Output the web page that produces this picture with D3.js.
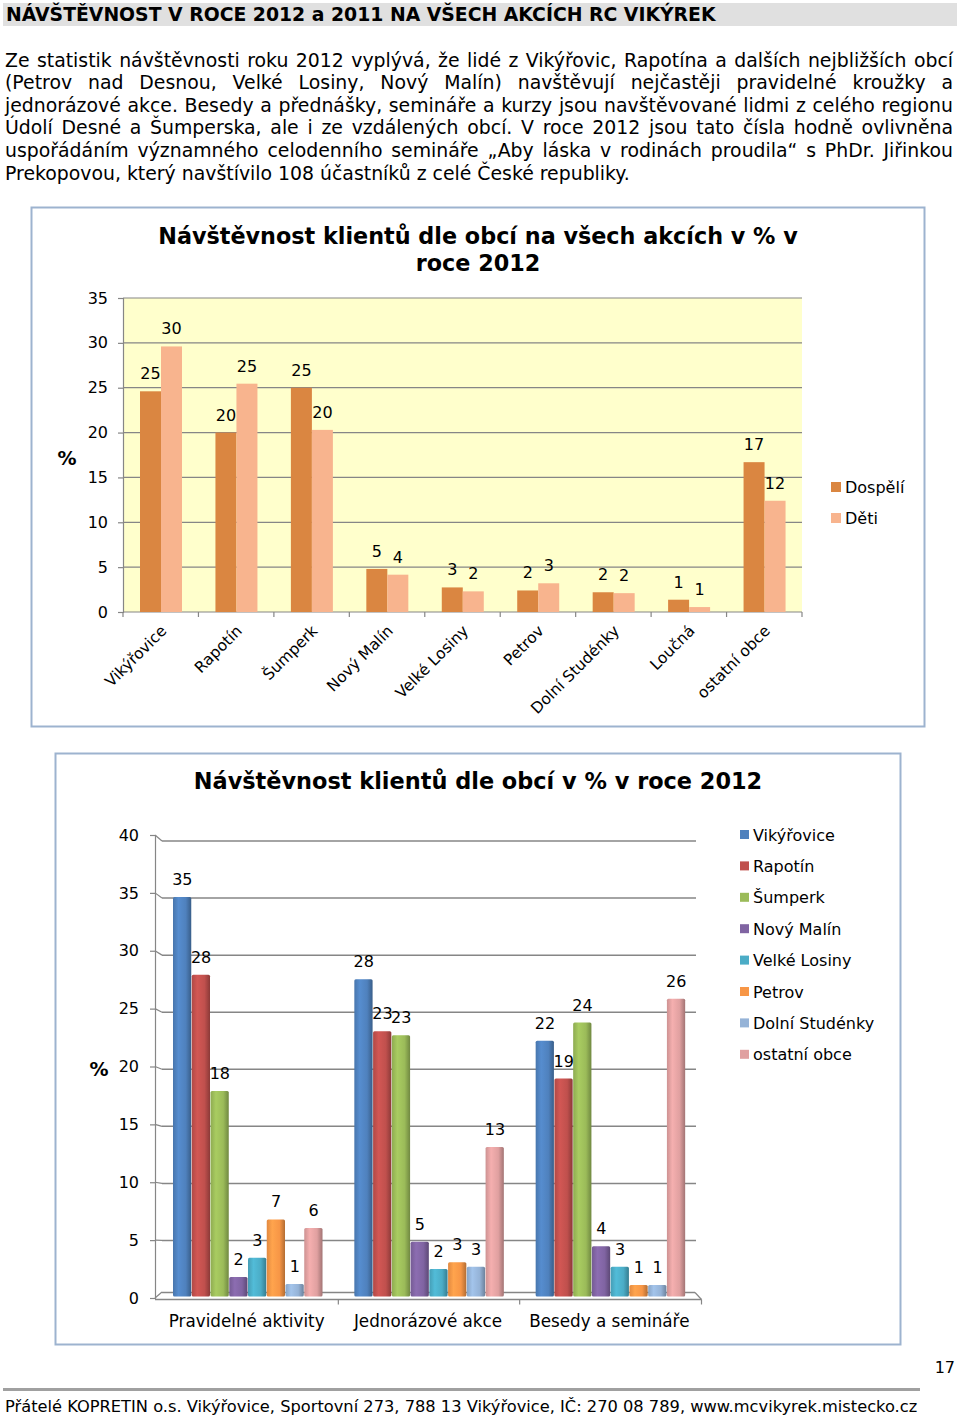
<!DOCTYPE html>
<html><head><meta charset="utf-8">
<script src="https://cdn.jsdelivr.net/npm/d3@7/dist/d3.min.js"></script>
<style>
html,body{margin:0;padding:0;background:#fff;}
svg{display:block;}
text{font-family:"DejaVu Sans",Verdana,sans-serif;}
</style></head>
<body>
<script>
// ---------- DATA ----------
const headerTitle = "NÁVŠTĚVNOST V ROCE 2012 a 2011 NA VŠECH AKCÍCH RC VIKÝREK";
const paragraphLines = [
  "Ze statistik návštěvnosti roku 2012 vyplývá, že lidé z Vikýřovic, Rapotína a dalších nejbližších obcí",
  "(Petrov nad Desnou, Velké Losiny, Nový Malín) navštěvují nejčastěji pravidelné kroužky a",
  "jednorázové akce. Besedy a přednášky, semináře a kurzy jsou navštěvované lidmi z celého regionu",
  "Údolí Desné a Šumperska, ale i ze vzdálených obcí. V roce 2012 jsou tato čísla hodně ovlivněna",
  "uspořádáním významného celodenního semináře „Aby láska v rodinách proudila“ s PhDr. Jiřinkou",
  "Prekopovou, který navštívilo 108 účastníků z celé České republiky."
];

const chart1TitleLines = ["Návštěvnost klientů dle obcí na všech akcích v % v", "roce 2012"];
const chart1Categories = ["Vikýřovice","Rapotín","Šumperk","Nový Malín","Velké Losiny","Petrov","Dolní Studénky","Loučná","ostatní obce"];
const chart1Series = ["Dospělí","Děti"];
const adultsValues   = [24.6, 20.0, 25.0, 4.8, 2.74, 2.4, 2.2, 1.37, 16.7];
const childrenValues = [29.6, 25.45, 20.3, 4.16, 2.3, 3.2, 2.1, 0.55, 12.4];
const chart1Ticks = [0, 5, 10, 15, 20, 25, 30, 35];

const chart2Title = "Návštěvnost klientů dle obcí v % v roce 2012";
const activityCategories = ["Pravidelné aktivity","Jednorázové akce","Besedy a semináře"];
const townSeries = ["Vikýřovice","Rapotín","Šumperk","Nový Malín","Velké Losiny","Petrov","Dolní Studénky","ostatní obce"];
const vikyroviceValues    = [35.0, 27.8, 22.4];
const rapotinValues       = [28.2, 23.25, 19.1];
const sumperkValues       = [18.0, 22.9, 24.0];
const novyMalinValues     = [1.7, 4.8, 4.4];
const velkeLosinyValues   = [3.4, 2.4, 2.6];
const petrovValues        = [6.75, 3.0, 1.0];
const dolniStudenkyValues = [1.1, 2.6, 1.0];
const ostatniObceValues   = [6.0, 13.1, 26.1];
const chart2Ticks = [0, 5, 10, 15, 20, 25, 30, 35, 40];

const pageNumber = "17";
const footerText = "Přátelé KOPRETIN o.s. Vikýřovice, Sportovní 273, 788 13 Vikýřovice, IČ: 270 08 789, www.mcvikyrek.mistecko.cz";

// ---------- STYLE ----------
const chart1Colors = ["#DA8641", "#F8B48E"];
const townColors = ["#4F81BD","#C0504D","#9BBB59","#8064A2","#4BACC6","#F79646","#95B3D7","#E0A0A0"];
const gridColor = "#868686";
const borderColor = "#9DB3CF";
const FONT = "DejaVu Sans";

const svg = d3.select("body").append("svg").attr("width", 960).attr("height", 1419);

function fitWidth(sel, target) {
  const w = sel.node().getComputedTextLength();
  const fs = parseFloat(sel.attr("font-size"));
  sel.attr("font-size", fs * target / w);
  return fs * target / w;
}

// ---------- HEADER ----------
svg.append("rect").attr("x", 3).attr("y", 3).attr("width", 954).attr("height", 23).attr("fill", "#E0E0E0");
const ht = svg.append("text").attr("x", 6).attr("y", 20.5).attr("font-size", 18).attr("font-weight", "bold").text(headerTitle);
fitWidth(ht, 710);

// ---------- PARAGRAPH (justified) ----------
(function () {
  const probe = svg.append("text").attr("font-size", 17).text(paragraphLines[paragraphLines.length - 1]);
  const fs = fitWidth(probe, 625);
  probe.remove();
  const left = 5, right = 953;
  paragraphLines.forEach((line, i) => {
    const y = 66.5 + i * 22.6;
    if (i === paragraphLines.length - 1) {
      svg.append("text").attr("x", left).attr("y", y).attr("font-size", fs).text(line);
      return;
    }
    const words = line.split(" ");
    const g = svg.append("g");
    const nodes = words.map(w => g.append("text").attr("y", y).attr("font-size", fs).text(w));
    const widths = nodes.map(n => n.node().getComputedTextLength());
    const total = d3.sum(widths);
    const gap = (right - left - total) / (words.length - 1);
    let x = left;
    nodes.forEach((n, k) => { n.attr("x", x); x += widths[k] + gap; });
  });
})();

// ---------- CHART 1 ----------
(function () {
  svg.append("rect").attr("x", 31.5).attr("y", 207.5).attr("width", 893).attr("height", 519)
    .attr("fill", "#fff").attr("stroke", borderColor).attr("stroke-width", 2);

  const t1 = svg.append("text").attr("x", 478).attr("y", 244).attr("text-anchor", "middle")
    .attr("font-size", 22).attr("font-weight", "bold").text(chart1TitleLines[0]);
  const tfs = fitWidth(t1, 640);
  svg.append("text").attr("x", 478).attr("y", 271).attr("text-anchor", "middle")
    .attr("font-size", tfs).attr("font-weight", "bold").text(chart1TitleLines[1]);

  const x0 = d3.scaleBand().domain(chart1Categories).range([123, 802]);
  const x1 = d3.scaleBand().domain(chart1Series).range([17, 59]);
  const y = d3.scaleLinear().domain([0, 35]).range([612, 298]);

  svg.append("rect").attr("x", 123).attr("y", y(35)).attr("width", 802 - 123).attr("height", y(0) - y(35)).attr("fill", "#FFFFCC");

  svg.append("g").selectAll("line").data(chart1Ticks.filter(d => d > 0)).join("line")
    .attr("x1", 123).attr("x2", 802).attr("y1", d => y(d)).attr("y2", d => y(d))
    .attr("stroke", gridColor).attr("stroke-width", 1.2);

  const yAxis = svg.append("g").attr("transform", "translate(123,0)")
    .call(d3.axisLeft(y).tickValues(chart1Ticks).tickSize(5).tickPadding(10));
  yAxis.selectAll("path,line").attr("stroke", gridColor).attr("stroke-width", 1.2);
  yAxis.selectAll("text").attr("font-size", 16).attr("font-family", FONT).attr("fill", "#000");

  // x axis
  svg.append("line").attr("x1", 123).attr("x2", 802).attr("y1", y(0)).attr("y2", y(0)).attr("stroke", gridColor).attr("stroke-width", 1.2);
  const bounds = chart1Categories.map(c => x0(c)).concat([x0.range()[1]]);
  svg.append("g").selectAll("line").data(bounds).join("line")
    .attr("x1", d => d).attr("x2", d => d).attr("y1", y(0)).attr("y2", y(0) + 5)
    .attr("stroke", gridColor).attr("stroke-width", 1.2);

  const rows = chart1Categories.map((c, i) => ({ c, vals: [adultsValues[i], childrenValues[i]] }));
  const grp = svg.append("g").selectAll("g").data(rows).join("g").attr("transform", d => `translate(${x0(d.c)},0)`);
  grp.selectAll("rect").data(d => d.vals.map((v, k) => ({ s: chart1Series[k], v, k }))).join("rect")
    .attr("x", d => x1(d.s)).attr("width", x1.bandwidth())
    .attr("y", d => y(d.v)).attr("height", d => y(0) - y(d.v))
    .attr("fill", d => chart1Colors[d.k]);
  grp.selectAll("text").data(d => d.vals.map((v, k) => ({ s: chart1Series[k], v, k }))).join("text")
    .attr("x", d => x1(d.s) + x1.bandwidth() / 2).attr("y", d => y(d.v) - 12)
    .attr("text-anchor", "middle").attr("font-size", 16).text(d => Math.round(d.v));

  // x labels
  svg.append("g").selectAll("text").data(chart1Categories).join("text")
    .attr("transform", d => `translate(${x0(d) + x0.bandwidth() / 2 + 3},628) rotate(-45)`)
    .attr("text-anchor", "end").attr("dy", "0.35em").attr("font-size", 15.5).text(d => d);

  svg.append("text").attr("x", 67).attr("y", 465).attr("text-anchor", "middle")
    .attr("font-size", 19).attr("font-weight", "bold").text("%");

  // legend
  const lg = svg.append("g").selectAll("g").data(chart1Series).join("g")
    .attr("transform", (d, i) => `translate(831,${487 + i * 31})`);
  lg.append("rect").attr("x", 0).attr("y", -5).attr("width", 10).attr("height", 10).attr("fill", (d, i) => chart1Colors[i]);
  lg.append("text").attr("x", 14).attr("y", 6).attr("font-size", 16).text(d => d);
})();

// ---------- CHART 2 ----------
(function () {
  svg.append("rect").attr("x", 55.5).attr("y", 753.5).attr("width", 845).attr("height", 591)
    .attr("fill", "#fff").attr("stroke", borderColor).attr("stroke-width", 2);

  const t = svg.append("text").attr("x", 478).attr("y", 789).attr("text-anchor", "middle")
    .attr("font-size", 22).attr("font-weight", "bold").text(chart2Title);
  fitWidth(t, 569);

  const seriesValues = [vikyroviceValues, rapotinValues, sumperkValues, novyMalinValues,
    velkeLosinyValues, petrovValues, dolniStudenkyValues, ostatniObceValues];

  const x0 = d3.scaleBand().domain(activityCategories).range([157, 701]);
  const x1 = d3.scaleBand().domain(townSeries).range([16, 166]);
  const y = d3.scaleLinear().domain([0, 40]).range([1296.5, 840]);      // bars & back wall
  const yt = d3.scaleLinear().domain([0, 40]).range([1298, 835]);       // front axis ticks

  const defs = svg.append("defs");
  townColors.forEach((c, i) => {
    const g = defs.append("linearGradient").attr("id", "g" + i).attr("x1", "0").attr("x2", "1").attr("y1", "0").attr("y2", "0");
    const base = d3.color(c);
    g.append("stop").attr("offset", "0%").attr("stop-color", base.darker(0.25));
    g.append("stop").attr("offset", "30%").attr("stop-color", base.brighter(0.25));
    g.append("stop").attr("offset", "70%").attr("stop-color", base);
    g.append("stop").attr("offset", "100%").attr("stop-color", base.darker(0.9));
  });

  // back-wall gridlines + diagonal connectors
  const gl = svg.append("g");
  chart2Ticks.filter(d => d > 0).forEach(d => {
    gl.append("line").attr("x1", 162).attr("x2", 696).attr("y1", y(d) + 1).attr("y2", y(d) + 1)
      .attr("stroke", gridColor).attr("stroke-width", 1.5);
  });
  chart2Ticks.forEach(d => {
    gl.append("line").attr("x1", 155).attr("x2", 162).attr("y1", yt(d)).attr("y2", d === 0 ? 1292 : y(d) + 1)
      .attr("stroke", gridColor).attr("stroke-width", 1.2);
  });
  // floor
  gl.append("line").attr("x1", 162).attr("x2", 695).attr("y1", 1292.5).attr("y2", 1292.5).attr("stroke", gridColor).attr("stroke-width", 1.5);
  gl.append("line").attr("x1", 695).attr("x2", 701.5).attr("y1", 1292.5).attr("y2", 1299.5).attr("stroke", gridColor).attr("stroke-width", 1.2);
  gl.append("line").attr("x1", 155).attr("x2", 701.5).attr("y1", 1299.5).attr("y2", 1299.5).attr("stroke", gridColor).attr("stroke-width", 1.5);

  const yAxis = svg.append("g").attr("transform", "translate(155,0)")
    .call(d3.axisLeft(yt).tickValues(chart2Ticks).tickSize(5).tickPadding(11));
  yAxis.selectAll("path,line").attr("stroke", gridColor).attr("stroke-width", 1.2);
  yAxis.selectAll("text").attr("font-size", 16).attr("font-family", FONT).attr("fill", "#000");

  const bnds = activityCategories.slice(1).map(c => x0(c)).concat([701.5]);
  svg.append("g").selectAll("line").data(bnds).join("line")
    .attr("x1", d => d).attr("x2", d => d).attr("y1", 1299.5).attr("y2", 1304.5)
    .attr("stroke", gridColor).attr("stroke-width", 1.2);

  const rows = activityCategories.map((c, i) => ({ c, vals: seriesValues.map(s => s[i]) }));
  const grp = svg.append("g").selectAll("g").data(rows).join("g").attr("transform", d => `translate(${x0(d.c)},0)`);
  const items = d => d.vals.map((v, k) => ({ s: townSeries[k], v, k }));
  grp.selectAll("rect").data(items).join("rect")
    .attr("x", d => x1(d.s)).attr("width", x1.bandwidth() - 0.5)
    .attr("y", d => y(d.v)).attr("height", d => y(0) - y(d.v))
    .attr("rx", 1.5)
    .attr("fill", d => `url(#g${d.k})`);
  grp.selectAll("text").data(items).join("text")
    .attr("x", d => x1(d.s) + x1.bandwidth() / 2).attr("y", d => y(d.v) - 12)
    .attr("text-anchor", "middle").attr("font-size", 16).text(d => Math.round(d.v));

  svg.append("g").selectAll("text").data(activityCategories).join("text")
    .attr("x", d => x0(d) + x0.bandwidth() / 2 - 1).attr("y", 1327)
    .attr("text-anchor", "middle").attr("font-size", 16.8).text(d => d);

  svg.append("text").attr("x", 99).attr("y", 1076).attr("text-anchor", "middle")
    .attr("font-size", 19).attr("font-weight", "bold").text("%");

  const lg = svg.append("g").selectAll("g").data(townSeries).join("g")
    .attr("transform", (d, i) => `translate(740,${834.5 + i * 31.4})`);
  lg.append("rect").attr("x", 0).attr("y", -4.5).attr("width", 9).attr("height", 9).attr("fill", (d, i) => townColors[i]);
  lg.append("text").attr("x", 13).attr("y", 6).attr("font-size", 16).text(d => d);
})();

// ---------- FOOTER ----------
svg.append("text").attr("x", 955).attr("y", 1373).attr("text-anchor", "end").attr("font-size", 16).text(pageNumber);
svg.append("line").attr("x1", 3).attr("x2", 920).attr("y1", 1389.5).attr("y2", 1389.5).attr("stroke", "#A0A0A0").attr("stroke-width", 3);
const ft = svg.append("text").attr("x", 5).attr("y", 1412).attr("font-size", 16)
  .attr("font-family", "DejaVu Sans Condensed, DejaVu Sans").text(footerText);
fitWidth(ft, 913);
</script>
</body></html>
